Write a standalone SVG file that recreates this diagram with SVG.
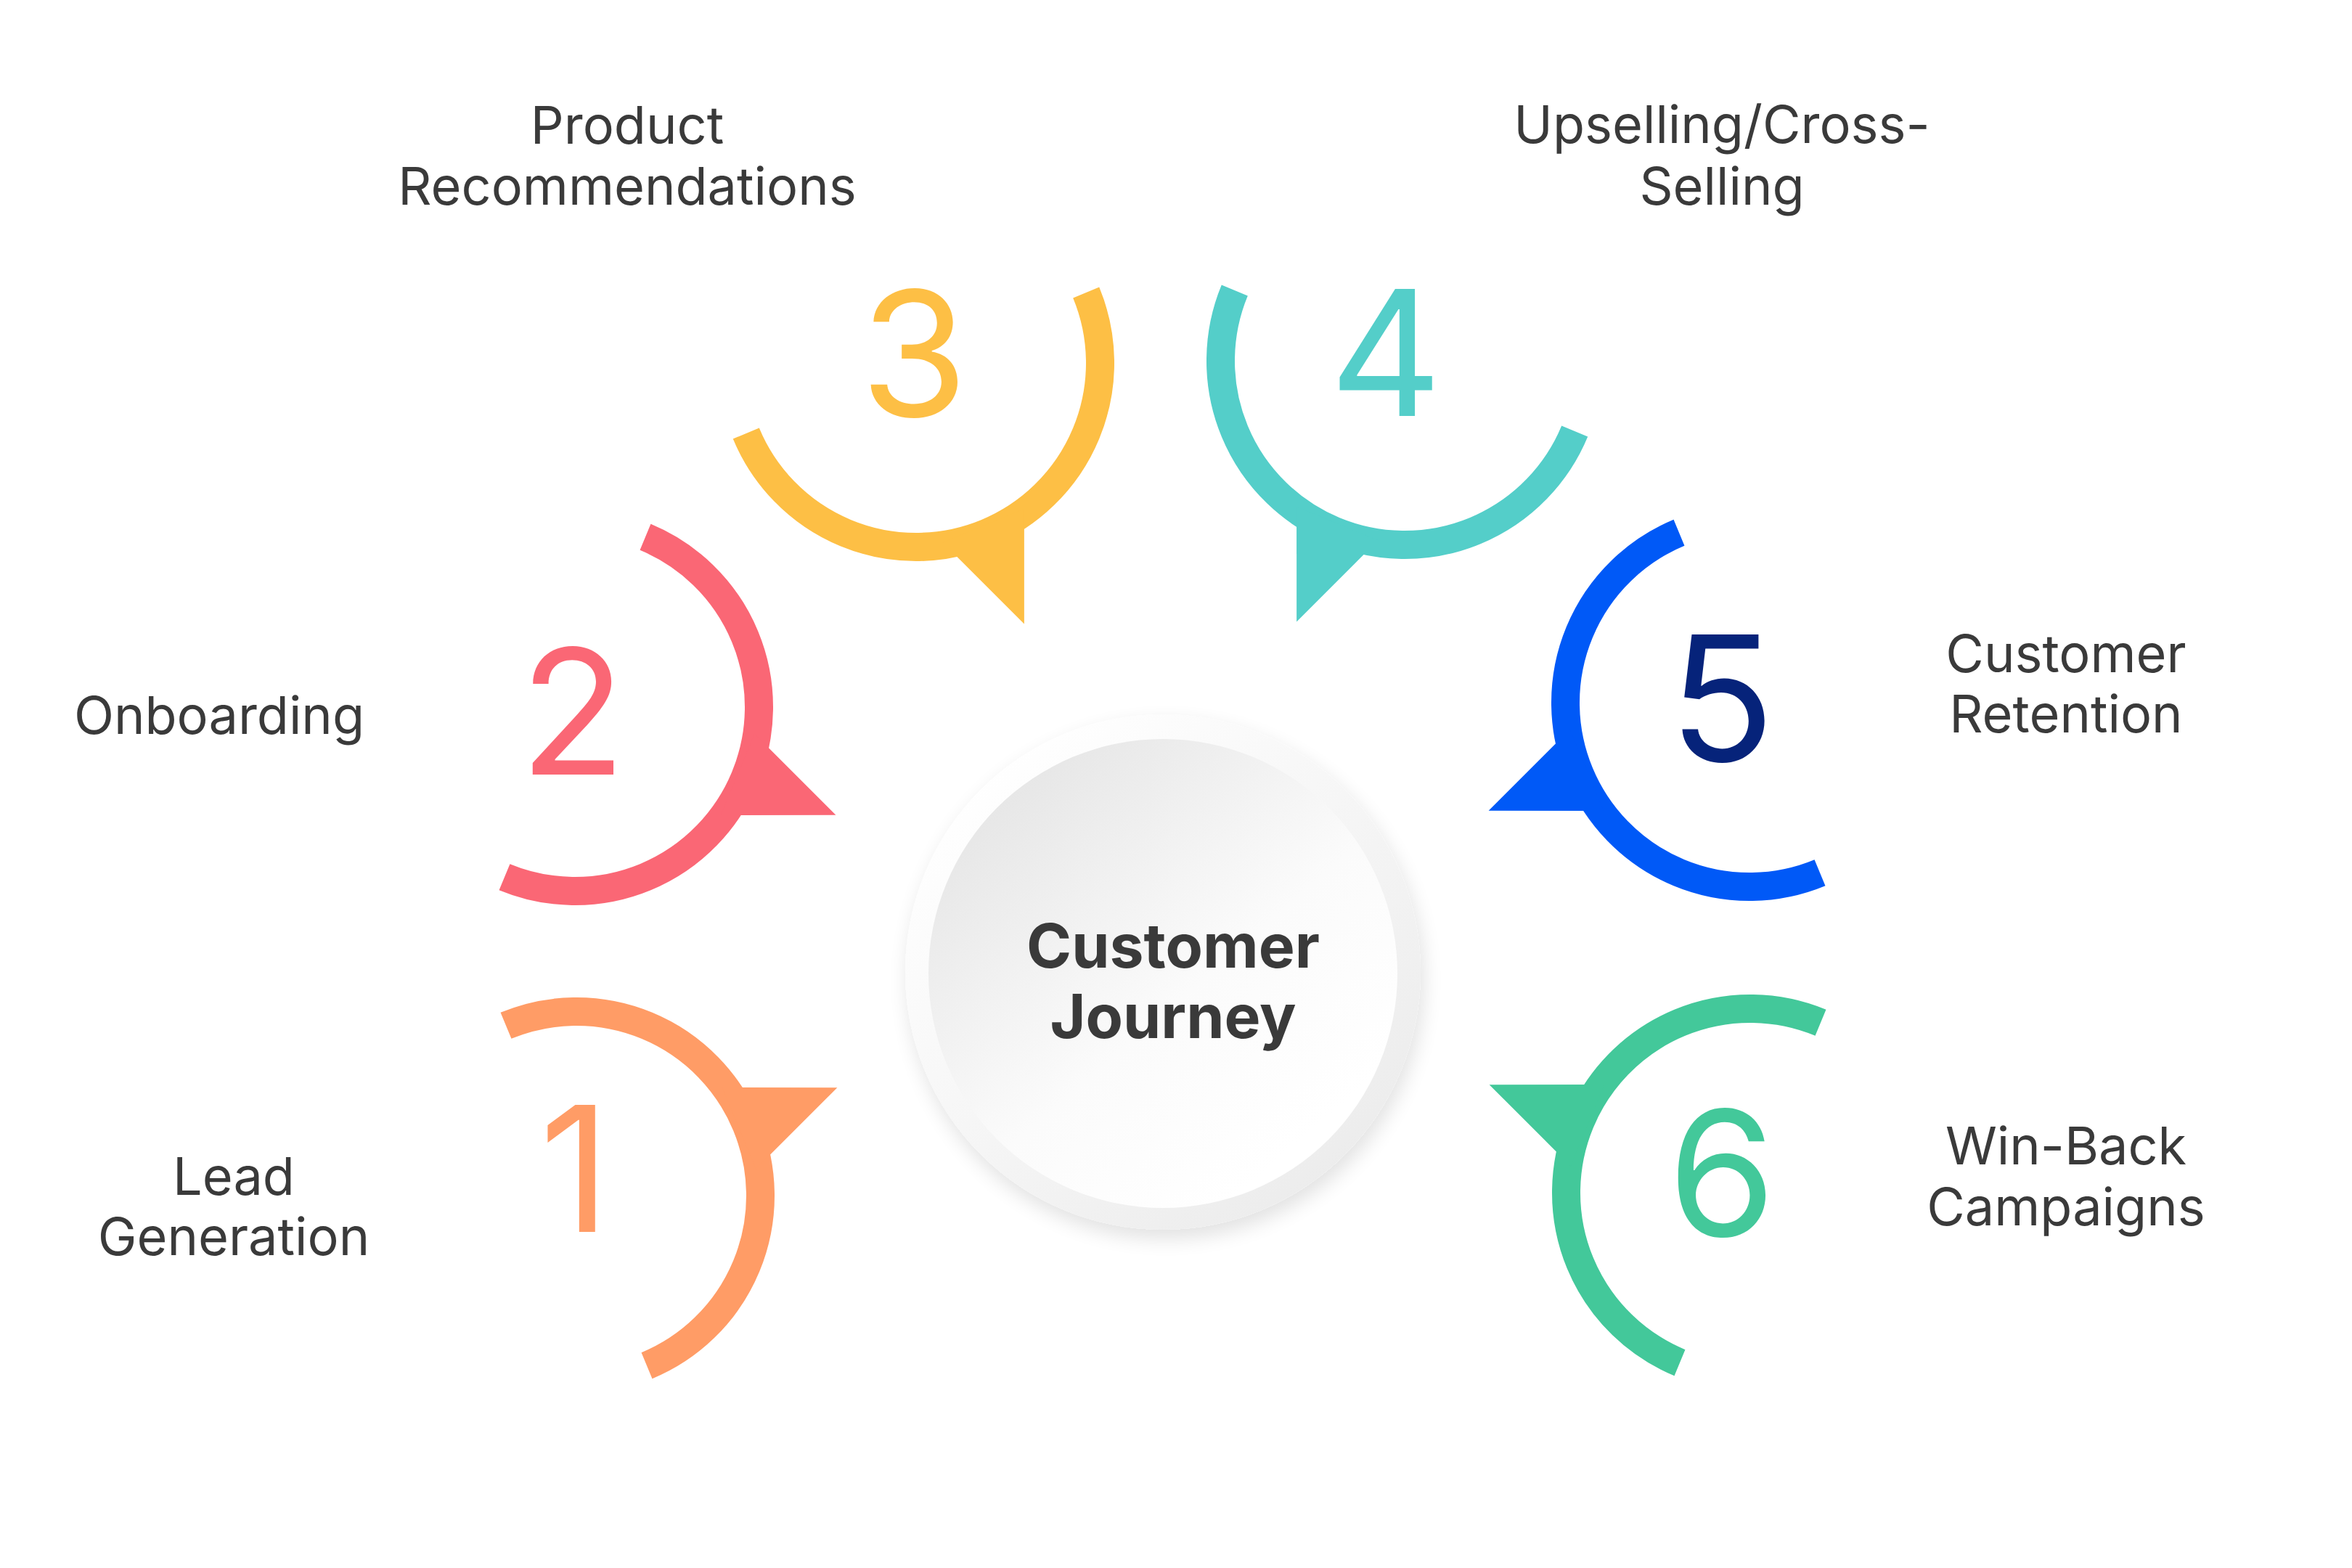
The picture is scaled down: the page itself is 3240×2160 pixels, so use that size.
<svg xmlns="http://www.w3.org/2000/svg" xmlns:xlink="http://www.w3.org/1999/xlink" width="3240" height="2160" viewBox="0 0 3240 2160">
  <style>
    .num { font-family: Inter, "Noto Sans", "Liberation Sans", sans-serif; font-size: 240px; font-weight: 400; text-anchor: middle; }
    .label { font-family: Inter, "Noto Sans", "Liberation Sans", sans-serif; font-size: 72px; font-weight: 400; fill: #3a3a3a; text-anchor: middle; }
    .title { font-family: Inter, "Noto Sans", "Liberation Sans", sans-serif; font-size: 84px; font-weight: 700; fill: #3a3a3a; text-anchor: middle; }
  </style>
  <defs>
    <g id="bubble">
      <path d="M0,-253.5 A253.5,253.5 0 0 1 0,253.5" fill="none" stroke="currentColor" stroke-width="39"/>
      <polygon points="389,0 242.6,60.7 242.6,-60.7" fill="currentColor"/>
    </g>
    <linearGradient id="ringGrad" x1="0.15" y1="0.1" x2="0.85" y2="0.9">
      <stop offset="0" stop-color="#ffffff"/>
      <stop offset="1" stop-color="#ececec"/>
    </linearGradient>
    <linearGradient id="discGrad" x1="0.15" y1="0.1" x2="0.8" y2="0.85">
      <stop offset="0" stop-color="#e6e6e6"/>
      <stop offset="0.6" stop-color="#fbfbfb"/>
      <stop offset="1" stop-color="#ffffff"/>
    </linearGradient>
    <filter id="shadow" x="-20%" y="-20%" width="140%" height="140%">
      <feGaussianBlur in="SourceAlpha" stdDeviation="14"/>
      <feOffset dx="4" dy="12" result="b"/>
      <feComponentTransfer><feFuncA type="linear" slope="0.12"/></feComponentTransfer>
      <feMerge><feMergeNode/><feMergeNode in="SourceGraphic"/></feMerge>
    </filter>
  </defs>
  <rect width="3240" height="2160" fill="#ffffff"/>

  <g id="connectors"></g>

  <g id="center">
    <circle cx="1602" cy="1339" r="355" fill="url(#ringGrad)" filter="url(#shadow)"/>
    <circle cx="1602" cy="1341" r="323" fill="url(#discGrad)"/>
    <text class="title" x="1616" y="1333">Customer</text>
    <text class="title" x="1616" y="1430">Journey</text>
  </g>

  <g id="step1">
    <use xlink:href="#bubble" href="#bubble" transform="translate(794,1647) rotate(-22.5)" style="color:#ff9c66"/>
    <text class="num" x="792" y="1697" fill="#ff9c66">1</text>
    <text class="label" x="322" y="1646">Lead</text>
    <text class="label" x="322" y="1729">Generation</text>
  </g>

  <g id="step2">
    <use xlink:href="#bubble" href="#bubble" transform="translate(792,974) rotate(22.5)" style="color:#fa6775"/>
    <text class="num" x="789" y="1067" fill="#fa6775">2</text>
    <text class="label" x="302" y="1011">Onboarding</text>
  </g>

  <g id="step3">
    <use xlink:href="#bubble" href="#bubble" transform="translate(1262,500) rotate(67.5)" style="color:#fdbf45"/>
    <text class="num" x="1259" y="574" fill="#fdbf45">3</text>
    <text class="label" x="864" y="198">Product</text>
    <text class="label" x="864" y="282">Recommendations</text>
  </g>

  <g id="step4">
    <use xlink:href="#bubble" href="#bubble" transform="translate(1935,497) rotate(112.5)" style="color:#54cec9"/>
    <text class="num" x="1909" y="573" fill="#54cec9">4</text>
    <text class="label" x="2372" y="197">Upselling/Cross-</text>
    <text class="label" x="2372" y="282">Selling</text>
  </g>

  <g id="step5">
    <use xlink:href="#bubble" href="#bubble" transform="translate(2410,968) rotate(157.5)" style="color:#0059f7"/>
    <text class="num" x="2372" y="1049" fill="#06237a">5</text>
    <text class="label" x="2846" y="926">Customer</text>
    <text class="label" x="2846" y="1009">Retention</text>
  </g>

  <g id="step6">
    <use xlink:href="#bubble" href="#bubble" transform="translate(2411,1643) rotate(202.5)" style="color:#43c89a"/>
    <text class="num" x="2372" y="1703" fill="#43c89a">6</text>
    <text class="label" x="2846" y="1604">Win-Back</text>
    <text class="label" x="2846" y="1688">Campaigns</text>
  </g>
</svg>
